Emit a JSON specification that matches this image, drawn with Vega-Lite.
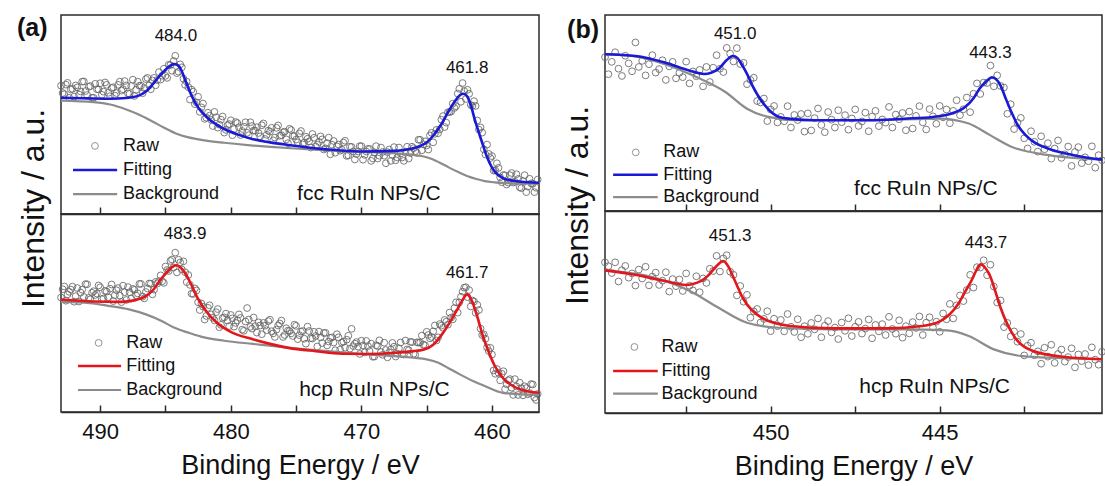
{
"$schema": "https://vega.github.io/schema/vega-lite/v6.json",
"background": "white",
"padding": {"left": 16, "top": 14, "right": 5, "bottom": 5},
"config": {
 "font": "Liberation Sans",
 "view": {"stroke": "#2b2b2b", "strokeWidth": 1.5},
 "axis": {"grid": false, "domainColor": "#2b2b2b", "domainWidth": 1.5, "tickColor": "#2b2b2b", "tickWidth": 1.5, "tickSize": -7, "labelFont": "Liberation Sans", "labelFontSize": 22, "labelColor": "#111", "labelPadding": 16, "titleFont": "Liberation Sans", "titleFontSize": 27, "titleFontWeight": "normal", "titleColor": "#111", "titlePadding": 10}
},
"datasets": {
"aF_raw": [{"x":493,"y":64.5},{"x":492.75,"y":60.2},{"x":492.5,"y":65.9},{"x":492.25,"y":62.6},{"x":492,"y":59},{"x":491.75,"y":63.6},{"x":491.5,"y":61.6},{"x":491.25,"y":66.6},{"x":491,"y":59.8},{"x":490.75,"y":64.3},{"x":490.5,"y":58.4},{"x":490.25,"y":62.7},{"x":490,"y":65.7},{"x":489.75,"y":61.5},{"x":489.5,"y":64.9},{"x":489.25,"y":59.2},{"x":489,"y":63.7},{"x":488.75,"y":60.8},{"x":488.5,"y":66.5},{"x":488.25,"y":62.7},{"x":488,"y":64.6},{"x":487.75,"y":60.4},{"x":487.5,"y":67.5},{"x":487.25,"y":62.4},{"x":487,"y":64.4},{"x":486.75,"y":60.7},{"x":486.5,"y":67.8},{"x":486.25,"y":64.6},{"x":486,"y":67.1},{"x":485.75,"y":64.7},{"x":485.5,"y":71.3},{"x":485.25,"y":69.5},{"x":485,"y":69.4},{"x":484.75,"y":75},{"x":484.5,"y":72},{"x":484.25,"y":79.5},{"x":484,"y":71.5},{"x":483.75,"y":73.7},{"x":483.5,"y":64.9},{"x":483.25,"y":63.7},{"x":483,"y":62.5},{"x":482.75,"y":55.2},{"x":482.5,"y":58.9},{"x":482.25,"y":53.6},{"x":482,"y":47.8},{"x":481.75,"y":50.9},{"x":481.5,"y":47.3},{"x":481.25,"y":51.3},{"x":481,"y":43.4},{"x":480.75,"y":47.4},{"x":480.5,"y":40.9},{"x":480.25,"y":44.7},{"x":480,"y":47.1},{"x":479.75,"y":42.7},{"x":479.5,"y":45.7},{"x":479.25,"y":39.7},{"x":479,"y":43.9},{"x":478.75,"y":40.8},{"x":478.5,"y":46.1},{"x":478.25,"y":41.9},{"x":478,"y":43.6},{"x":477.75,"y":39},{"x":477.5,"y":45.5},{"x":477.25,"y":39.8},{"x":477,"y":41.4},{"x":476.75,"y":37},{"x":476.5,"y":43.3},{"x":476.25,"y":39.3},{"x":476,"y":41.1},{"x":475.75,"y":37.5},{"x":475.5,"y":42.8},{"x":475.25,"y":39.2},{"x":475,"y":37.4},{"x":474.75,"y":40.5},{"x":474.5,"y":35},{"x":474.25,"y":38.8},{"x":474,"y":36.5},{"x":473.75,"y":40.2},{"x":473.5,"y":33.9},{"x":473.25,"y":36.2},{"x":473,"y":37.5},{"x":472.75,"y":33},{"x":472.5,"y":38.4},{"x":472.25,"y":34.8},{"x":472,"y":30.8},{"x":471.75,"y":34.9},{"x":471.5,"y":32.3},{"x":471.25,"y":36.8},{"x":471,"y":29.4},{"x":470.75,"y":33.7},{"x":470.5,"y":27.4},{"x":470.25,"y":31.4},{"x":470,"y":34.1},{"x":469.75,"y":29.7},{"x":469.5,"y":32.7},{"x":469.25,"y":26.7},{"x":469,"y":30.9},{"x":468.75,"y":27.9},{"x":468.5,"y":33.4},{"x":468.25,"y":29.3},{"x":468,"y":31.1},{"x":467.75,"y":26.7},{"x":467.5,"y":33.6},{"x":467.25,"y":28.4},{"x":467,"y":30.4},{"x":466.75,"y":26.7},{"x":466.5,"y":33.8},{"x":466.25,"y":30.6},{"x":466,"y":33.1},{"x":465.75,"y":30.7},{"x":465.5,"y":37.3},{"x":465.25,"y":35},{"x":465,"y":34.4},{"x":464.75,"y":39.5},{"x":464.5,"y":36},{"x":464.25,"y":42.3},{"x":464,"y":42.5},{"x":463.75,"y":49.2},{"x":463.5,"y":45.9},{"x":463.25,"y":51.2},{"x":463,"y":55.5},{"x":462.75,"y":54.2},{"x":462.5,"y":62.9},{"x":462.25,"y":65.8},{"x":462,"y":57.8},{"x":461.75,"y":60.4},{"x":461.5,"y":54.3},{"x":461.25,"y":54.3},{"x":461,"y":42.4},{"x":460.75,"y":40.9},{"x":460.5,"y":29.9},{"x":460.25,"y":30.2},{"x":460,"y":29.1},{"x":459.75,"y":21.9},{"x":459.5,"y":23.2},{"x":459.25,"y":16},{"x":459,"y":19.4},{"x":458.75,"y":15.8},{"x":458.5,"y":20.6},{"x":458.25,"y":16.2},{"x":458,"y":17.6},{"x":457.75,"y":13},{"x":457.5,"y":19.5},{"x":457.25,"y":13.8},{"x":457,"y":15.4},{"x":456.75,"y":11},{"x":456.5,"y":17.3},
{"x":492.875,"y":60.8},{"x":492.625,"y":65},{"x":492.375,"y":58.4},{"x":492.125,"y":62.9},{"x":491.875,"y":64.6},{"x":491.625,"y":60},{"x":491.375,"y":66.5},{"x":491.125,"y":61.8},{"x":490.875,"y":63.9},{"x":490.625,"y":58.4},{"x":490.375,"y":65.4},{"x":490.125,"y":62.6},{"x":489.875,"y":59.9},{"x":489.625,"y":66.1},{"x":489.375,"y":60.9},{"x":489.125,"y":63.3},{"x":488.875,"y":59.5},{"x":488.625,"y":64.9},{"x":488.375,"y":62},{"x":488.125,"y":66.8},{"x":487.875,"y":60.6},{"x":487.625,"y":64.3},{"x":487.375,"y":59.3},{"x":487.125,"y":66.5},{"x":486.875,"y":64.5},{"x":486.625,"y":63.3},{"x":486.375,"y":68.4},{"x":486.125,"y":62.7},{"x":485.875,"y":68.4},{"x":485.625,"y":67.3},{"x":485.375,"y":67.5},{"x":485.125,"y":73},{"x":484.875,"y":68.4},{"x":484.625,"y":74.8},{"x":484.375,"y":76.9},{"x":484.125,"y":70.8},{"x":483.875,"y":75.2},{"x":483.625,"y":68},{"x":483.375,"y":66.5},{"x":483.125,"y":57.5},{"x":482.875,"y":61.4},{"x":482.625,"y":56.1},{"x":482.375,"y":51.3},{"x":482.125,"y":55.5},{"x":481.875,"y":48.4},{"x":481.625,"y":49.4},{"x":481.375,"y":44.2},{"x":481.125,"y":48.6},{"x":480.875,"y":44.9},{"x":480.625,"y":49},{"x":480.375,"y":42.3},{"x":480.125,"y":45.2},{"x":479.875,"y":39.6},{"x":479.625,"y":46.2},{"x":479.375,"y":43.6},{"x":479.125,"y":41.7},{"x":478.875,"y":46.1},{"x":478.625,"y":39.6},{"x":478.375,"y":44.2},{"x":478.125,"y":41.9},{"x":477.875,"y":40.7},{"x":477.625,"y":44.6},{"x":477.375,"y":37.7},{"x":477.125,"y":41.9},{"x":476.875,"y":43.3},{"x":476.625,"y":38.4},{"x":476.375,"y":44.5},{"x":476.125,"y":39.6},{"x":475.875,"y":41.4},{"x":475.625,"y":35.6},{"x":475.375,"y":42.2},{"x":475.125,"y":39.2},{"x":474.875,"y":36},{"x":474.625,"y":41.7},{"x":474.375,"y":35.9},{"x":474.125,"y":37.8},{"x":473.875,"y":33.4},{"x":473.625,"y":38.3},{"x":473.375,"y":34.8},{"x":473.125,"y":39},{"x":472.875,"y":32.4},{"x":472.625,"y":35.6},{"x":472.375,"y":30},{"x":472.125,"y":36.7},{"x":471.875,"y":34},{"x":471.625,"y":31.8},{"x":471.375,"y":35.9},{"x":471.125,"y":29.2},{"x":470.875,"y":33.8},{"x":470.625,"y":31.4},{"x":470.375,"y":30.1},{"x":470.125,"y":34.1},{"x":469.875,"y":27.3},{"x":469.625,"y":31.4},{"x":469.375,"y":32.7},{"x":469.125,"y":27.9},{"x":468.875,"y":34.1},{"x":468.625,"y":29.3},{"x":468.375,"y":31.2},{"x":468.125,"y":25.5},{"x":467.875,"y":32.4},{"x":467.625,"y":29.6},{"x":467.375,"y":27},{"x":467.125,"y":33.4},{"x":466.875,"y":28.4},{"x":466.625,"y":31.3},{"x":466.375,"y":27.9},{"x":466.125,"y":33.8},{"x":465.875,"y":31.6},{"x":465.625,"y":37.3},{"x":465.375,"y":32},{"x":465.125,"y":36.5},{"x":464.875,"y":32.4},{"x":464.625,"y":40.8},{"x":464.375,"y":40.3},{"x":464.125,"y":40.6},{"x":463.875,"y":47.4},{"x":463.625,"y":43.7},{"x":463.375,"y":51.1},{"x":463.125,"y":51.5},{"x":462.875,"y":53.3},{"x":462.625,"y":60.5},{"x":462.375,"y":56.4},{"x":462.125,"y":61.8},{"x":461.875,"y":62.4},{"x":461.625,"y":54.8},{"x":461.375,"y":56.7},{"x":461.125,"y":47},{"x":460.875,"y":43.5},{"x":460.625,"y":32.5},{"x":460.375,"y":34.9},{"x":460.125,"y":28.1},{"x":459.875,"y":21.8},{"x":459.625,"y":25.5},{"x":459.375,"y":18.4},{"x":459.125,"y":19.6},{"x":458.875,"y":14.8},{"x":458.625,"y":19.5},{"x":458.375,"y":15.8},{"x":458.125,"y":20},{"x":457.875,"y":13.4},{"x":457.625,"y":16.6},{"x":457.375,"y":11},{"x":457.125,"y":17.7},{"x":456.875,"y":15.2},{"x":456.625,"y":13.2}],
"aH_raw": [{"x":493,"y":57.8},{"x":492.75,"y":63.4},{"x":492.5,"y":59.4},{"x":492.25,"y":61.8},{"x":492,"y":55.7},{"x":491.75,"y":62.6},{"x":491.5,"y":60.3},{"x":491.25,"y":58.1},{"x":491,"y":64.5},{"x":490.75,"y":56.9},{"x":490.5,"y":61},{"x":490.25,"y":59.8},{"x":490,"y":63},{"x":489.75,"y":57.3},{"x":489.5,"y":60.8},{"x":489.25,"y":62.3},{"x":489,"y":56},{"x":488.75,"y":61.5},{"x":488.5,"y":58.8},{"x":488.25,"y":63.8},{"x":488,"y":56.6},{"x":487.75,"y":60.5},{"x":487.5,"y":62.2},{"x":487.25,"y":58.9},{"x":487,"y":64.7},{"x":486.75,"y":58.3},{"x":486.5,"y":60.6},{"x":486.25,"y":64.9},{"x":486,"y":59.4},{"x":485.75,"y":65.7},{"x":485.5,"y":66.1},{"x":485.25,"y":66},{"x":485,"y":73.5},{"x":484.75,"y":71.2},{"x":484.5,"y":77},{"x":484.25,"y":80.5},{"x":484,"y":76.9},{"x":483.75,"y":72},{"x":483.5,"y":70.6},{"x":483.25,"y":69.2},{"x":483,"y":59.8},{"x":482.75,"y":62.4},{"x":482.5,"y":55.4},{"x":482.25,"y":54.8},{"x":482,"y":46.7},{"x":481.75,"y":52.6},{"x":481.5,"y":49.3},{"x":481.25,"y":46.3},{"x":481,"y":52},{"x":480.75,"y":44},{"x":480.5,"y":47.8},{"x":480.25,"y":46.2},{"x":480,"y":49},{"x":479.75,"y":43.1},{"x":479.5,"y":46.3},{"x":479.25,"y":47.5},{"x":479,"y":41},{"x":478.75,"y":52.5},{"x":478.5,"y":43},{"x":478.25,"y":47.7},{"x":478,"y":40.1},{"x":477.75,"y":43.7},{"x":477.5,"y":45},{"x":477.25,"y":41.3},{"x":477,"y":46.6},{"x":476.75,"y":39.7},{"x":476.5,"y":41.6},{"x":476.25,"y":44.7},{"x":476,"y":37.9},{"x":475.75,"y":42.3},{"x":475.5,"y":40.9},{"x":475.25,"y":38.4},{"x":475,"y":43.5},{"x":474.75,"y":38.8},{"x":474.5,"y":40.9},{"x":474.25,"y":34.5},{"x":474,"y":40.9},{"x":473.75,"y":37.1},{"x":473.5,"y":38.4},{"x":473.25,"y":40.6},{"x":473,"y":34.8},{"x":472.75,"y":40},{"x":472.5,"y":35.6},{"x":472.25,"y":37.7},{"x":472,"y":31.2},{"x":471.75,"y":37.7},{"x":471.5,"y":35.1},{"x":471.25,"y":32.5},{"x":471,"y":38.5},{"x":470.75,"y":42},{"x":470.5,"y":34.5},{"x":470.25,"y":33},{"x":470,"y":36},{"x":469.75,"y":30.1},{"x":469.5,"y":33.3},{"x":469.25,"y":34.5},{"x":469,"y":28},{"x":468.75,"y":33.3},{"x":468.5,"y":30.3},{"x":468.25,"y":35},{"x":468,"y":27.6},{"x":467.75,"y":31.5},{"x":467.5,"y":33},{"x":467.25,"y":29.5},{"x":467,"y":35.1},{"x":466.75,"y":29},{"x":466.5,"y":31.6},{"x":466.25,"y":35.4},{"x":466,"y":29.4},{"x":465.75,"y":35.2},{"x":465.5,"y":35.1},{"x":465.25,"y":34},{"x":465,"y":40.5},{"x":464.75,"y":37.2},{"x":464.5,"y":40.7},{"x":464.25,"y":36.1},{"x":464,"y":44.4},{"x":463.75,"y":42.5},{"x":463.5,"y":45.6},{"x":463.25,"y":50.2},{"x":463,"y":46.8},{"x":462.75,"y":55.4},{"x":462.5,"y":55.4},{"x":462.25,"y":60.8},{"x":462,"y":63},{"x":461.75,"y":61.6},{"x":461.5,"y":56.3},{"x":461.25,"y":50.1},{"x":461,"y":51.5},{"x":460.75,"y":38.9},{"x":460.5,"y":37},{"x":460.25,"y":30.8},{"x":460,"y":29},{"x":459.75,"y":19.3},{"x":459.5,"y":19.8},{"x":459.25,"y":19.3},{"x":459,"y":11.5},{"x":458.75,"y":16},{"x":458.5,"y":12.3},{"x":458.25,"y":16.6},{"x":458,"y":8.6},{"x":457.75,"y":12},{"x":457.5,"y":13},{"x":457.25,"y":9},{"x":457,"y":14.1},{"x":456.75,"y":7.3},{"x":456.5,"y":9.1},
{"x":492.875,"y":62},{"x":492.625,"y":56.2},{"x":492.375,"y":60.7},{"x":492.125,"y":63.3},{"x":491.875,"y":58.5},{"x":491.625,"y":55.8},{"x":491.375,"y":61.8},{"x":491.125,"y":64.6},{"x":490.875,"y":57.6},{"x":490.625,"y":60.2},{"x":490.375,"y":59.1},{"x":490.125,"y":63.9},{"x":489.875,"y":57},{"x":489.625,"y":61.2},{"x":489.375,"y":58},{"x":489.125,"y":64.4},{"x":488.875,"y":59},{"x":488.625,"y":62.6},{"x":488.375,"y":55.5},{"x":488.125,"y":60.5},{"x":487.875,"y":63.1},{"x":487.625,"y":57.3},{"x":487.375,"y":61.7},{"x":487.125,"y":59.9},{"x":486.875,"y":64.7},{"x":486.625,"y":57.4},{"x":486.375,"y":62.4},{"x":486.125,"y":64.8},{"x":485.875,"y":61.8},{"x":485.625,"y":64.9},{"x":485.375,"y":69},{"x":485.125,"y":65.2},{"x":484.875,"y":71.7},{"x":484.625,"y":76.3},{"x":484.375,"y":73},{"x":484.125,"y":70.5},{"x":483.875,"y":75.5},{"x":483.625,"y":76.1},{"x":483.375,"y":65.6},{"x":483.125,"y":64.2},{"x":482.875,"y":59.6},{"x":482.625,"y":61.4},{"x":482.375,"y":51.5},{"x":482.125,"y":53.2},{"x":481.875,"y":48.5},{"x":481.625,"y":53.9},{"x":481.375,"y":47.6},{"x":481.125,"y":50.4},{"x":480.875,"y":42.8},{"x":480.625,"y":47.5},{"x":480.375,"y":49.7},{"x":480.125,"y":43.4},{"x":479.875,"y":47.3},{"x":479.625,"y":45},{"x":479.375,"y":49.3},{"x":479.125,"y":41.6},{"x":478.875,"y":45.7},{"x":478.625,"y":46.7},{"x":478.375,"y":42.1},{"x":478.125,"y":43.4},{"x":477.875,"y":45.3},{"x":477.625,"y":39.3},{"x":477.375,"y":43.6},{"x":477.125,"y":45.9},{"x":476.875,"y":40.8},{"x":476.625,"y":37.9},{"x":476.375,"y":43.7},{"x":476.125,"y":46.2},{"x":475.875,"y":38.9},{"x":475.625,"y":41.1},{"x":475.375,"y":39.7},{"x":475.125,"y":44.1},{"x":474.875,"y":36.8},{"x":474.625,"y":40.6},{"x":474.375,"y":37},{"x":474.125,"y":43.1},{"x":473.875,"y":37.3},{"x":473.625,"y":40.5},{"x":473.375,"y":33.1},{"x":473.125,"y":37.7},{"x":472.875,"y":39.9},{"x":472.625,"y":33.6},{"x":472.375,"y":37.4},{"x":472.125,"y":35.1},{"x":471.875,"y":39.3},{"x":471.625,"y":31.5},{"x":471.375,"y":35.5},{"x":471.125,"y":36.5},{"x":470.875,"y":32},{"x":470.625,"y":33.3},{"x":470.375,"y":35.3},{"x":470.125,"y":29.3},{"x":469.875,"y":33.6},{"x":469.625,"y":35.9},{"x":469.375,"y":30.8},{"x":469.125,"y":27.9},{"x":468.875,"y":33.7},{"x":468.625,"y":36.2},{"x":468.375,"y":28.9},{"x":468.125,"y":31.3},{"x":467.875,"y":30.1},{"x":467.625,"y":34.9},{"x":467.375,"y":28},{"x":467.125,"y":32.2},{"x":466.875,"y":29.2},{"x":466.625,"y":36.1},{"x":466.375,"y":31.2},{"x":466.125,"y":35.3},{"x":465.875,"y":29},{"x":465.625,"y":35},{"x":465.375,"y":38.6},{"x":465.125,"y":33.7},{"x":464.875,"y":38.9},{"x":464.625,"y":37.9},{"x":464.375,"y":43.7},{"x":464.125,"y":37.7},{"x":463.875,"y":43.6},{"x":463.625,"y":46.5},{"x":463.375,"y":44.1},{"x":463.125,"y":47.7},{"x":462.875,"y":52.5},{"x":462.625,"y":50.2},{"x":462.375,"y":58.2},{"x":462.125,"y":62.8},{"x":461.875,"y":58},{"x":461.625,"y":53.3},{"x":461.375,"y":55.8},{"x":461.125,"y":54.1},{"x":460.875,"y":42.1},{"x":460.625,"y":39.2},{"x":460.375,"y":32.6},{"x":460.125,"y":32.4},{"x":459.875,"y":21},{"x":459.625,"y":21.7},{"x":459.375,"y":16},{"x":459.125,"y":20.6},{"x":458.875,"y":14},{"x":458.625,"y":16.6},{"x":458.375,"y":8.6},{"x":458.125,"y":12.9},{"x":457.875,"y":14.8},{"x":457.625,"y":8.4},{"x":457.375,"y":12.1},{"x":457.125,"y":9.6},{"x":456.875,"y":13.9},{"x":456.625,"y":6.1}],
"bF_raw": [{"x":454.9,"y":78.5},{"x":454.8,"y":69.8},{"x":454.7,"y":76.1},{"x":454.6,"y":81},{"x":454.5,"y":72.6},{"x":454.4,"y":68.9},{"x":454.3,"y":79.2},{"x":454.2,"y":75.3},{"x":454.1,"y":71.3},{"x":454,"y":86},{"x":453.9,"y":73.5},{"x":453.8,"y":76.6},{"x":453.7,"y":69.2},{"x":453.6,"y":74.9},{"x":453.5,"y":79.5},{"x":453.4,"y":70.6},{"x":453.3,"y":72.4},{"x":453.2,"y":76.9},{"x":453.1,"y":66.9},{"x":453,"y":73.8},{"x":452.9,"y":76.1},{"x":452.8,"y":67.7},{"x":452.7,"y":70.5},{"x":452.6,"y":68.3},{"x":452.5,"y":76.2},{"x":452.4,"y":65.1},{"x":452.3,"y":71.2},{"x":452.2,"y":68.8},{"x":452.1,"y":72},{"x":452,"y":63.6},{"x":451.9,"y":73.5},{"x":451.8,"y":65.8},{"x":451.7,"y":73.1},{"x":451.6,"y":79.5},{"x":451.5,"y":72.6},{"x":451.4,"y":70.9},{"x":451.3,"y":83.2},{"x":451.2,"y":80.3},{"x":451.1,"y":76.3},{"x":451,"y":83.1},{"x":450.9,"y":75},{"x":450.8,"y":75.6},{"x":450.7,"y":64.7},{"x":450.6,"y":66.9},{"x":450.5,"y":68},{"x":450.4,"y":56.1},{"x":450.3,"y":55.4},{"x":450.2,"y":57.4},{"x":450.1,"y":45.9},{"x":450,"y":51.8},{"x":449.9,"y":53.6},{"x":449.8,"y":45.2},{"x":449.7,"y":48},{"x":449.6,"y":45.8},{"x":449.5,"y":53.5},{"x":449.4,"y":42.6},{"x":449.3,"y":49},{"x":449.2,"y":46.4},{"x":449.1,"y":49.5},{"x":449,"y":40.5},{"x":448.9,"y":49.8},{"x":448.8,"y":41.1},{"x":448.7,"y":47.4},{"x":448.6,"y":52.3},{"x":448.5,"y":43.9},{"x":448.4,"y":40.2},{"x":448.3,"y":50.5},{"x":448.2,"y":46.6},{"x":448.1,"y":42.6},{"x":448,"y":51.4},{"x":447.9,"y":45.3},{"x":447.8,"y":48.9},{"x":447.7,"y":41.5},{"x":447.6,"y":47.2},{"x":447.5,"y":51.8},{"x":447.4,"y":43.4},{"x":447.3,"y":45.7},{"x":447.2,"y":50.2},{"x":447.1,"y":40.7},{"x":447,"y":48.2},{"x":446.9,"y":51.1},{"x":446.8,"y":43.3},{"x":446.7,"y":46.7},{"x":446.6,"y":45.1},{"x":446.5,"y":53.1},{"x":446.4,"y":42.6},{"x":446.3,"y":49.2},{"x":446.2,"y":46.8},{"x":446.1,"y":50},{"x":446,"y":41.2},{"x":445.9,"y":50.7},{"x":445.8,"y":42.1},{"x":445.7,"y":48.5},{"x":445.6,"y":53.5},{"x":445.5,"y":45.2},{"x":445.4,"y":41.6},{"x":445.3,"y":52},{"x":445.2,"y":48.3},{"x":445.1,"y":44.5},{"x":445,"y":53.6},{"x":444.9,"y":47.8},{"x":444.8,"y":51.8},{"x":444.7,"y":44.8},{"x":444.6,"y":51.1},{"x":444.5,"y":56.5},{"x":444.4,"y":48.9},{"x":444.3,"y":51.9},{"x":444.2,"y":57.9},{"x":444.1,"y":50.4},{"x":444,"y":59.8},{"x":443.9,"y":65.1},{"x":443.8,"y":59.7},{"x":443.7,"y":65.5},{"x":443.6,"y":65.3},{"x":443.5,"y":74.2},{"x":443.4,"y":63.6},{"x":443.3,"y":69.2},{"x":443.2,"y":63.8},{"x":443.1,"y":63},{"x":443,"y":49.6},{"x":442.9,"y":54.5},{"x":442.8,"y":41.8},{"x":442.7,"y":45.1},{"x":442.6,"y":47.5},{"x":442.5,"y":37.1},{"x":442.4,"y":31.9},{"x":442.3,"y":40.7},{"x":442.2,"y":35.3},{"x":442.1,"y":30.3},{"x":442,"y":38.1},{"x":441.9,"y":31.5},{"x":441.8,"y":34.6},{"x":441.7,"y":26.7},{"x":441.6,"y":31.9},{"x":441.5,"y":36},{"x":441.4,"y":27.1},{"x":441.3,"y":28.9},{"x":441.2,"y":32.9},{"x":441.1,"y":23},{"x":441,"y":30.1},{"x":440.9,"y":32.6},{"x":440.8,"y":24.4},{"x":440.7,"y":27.4},{"x":440.6,"y":25.4},{"x":440.5,"y":33},{"x":440.4,"y":22.1},{"x":440.3,"y":28.5},{"x":440.2,"y":25.9}],
"bH_raw": [{"x":454.9,"y":74.6},{"x":454.8,"y":72.7},{"x":454.7,"y":69.3},{"x":454.6,"y":74.6},{"x":454.5,"y":65.1},{"x":454.4,"y":70.7},{"x":454.3,"y":72.8},{"x":454.2,"y":67},{"x":454.1,"y":69.1},{"x":454,"y":63.1},{"x":453.9,"y":71},{"x":453.8,"y":66.6},{"x":453.7,"y":72.4},{"x":453.6,"y":63.2},{"x":453.5,"y":67.5},{"x":453.4,"y":69.5},{"x":453.3,"y":63.4},{"x":453.2,"y":65.5},{"x":453.1,"y":69.7},{"x":453,"y":60.1},{"x":452.9,"y":66.3},{"x":452.8,"y":62.8},{"x":452.7,"y":66.1},{"x":452.6,"y":60.4},{"x":452.5,"y":69.1},{"x":452.4,"y":63},{"x":452.3,"y":60.7},{"x":452.2,"y":67.7},{"x":452.1,"y":59.8},{"x":452,"y":66.6},{"x":451.9,"y":64.4},{"x":451.8,"y":71.4},{"x":451.7,"y":70.3},{"x":451.6,"y":77.8},{"x":451.5,"y":70},{"x":451.4,"y":76.5},{"x":451.3,"y":78.1},{"x":451.2,"y":70},{"x":451.1,"y":68.4},{"x":451,"y":58.2},{"x":450.9,"y":62.9},{"x":450.8,"y":55.1},{"x":450.7,"y":58.5},{"x":450.6,"y":47.2},{"x":450.5,"y":50.3},{"x":450.4,"y":51.5},{"x":450.3,"y":44.8},{"x":450.2,"y":46.6},{"x":450.1,"y":50.4},{"x":450,"y":40.5},{"x":449.9,"y":46.7},{"x":449.8,"y":43},{"x":449.7,"y":46.1},{"x":449.6,"y":40.4},{"x":449.5,"y":49},{"x":449.4,"y":42.7},{"x":449.3,"y":40.1},{"x":449.2,"y":46.4},{"x":449.1,"y":37.5},{"x":449,"y":43},{"x":448.9,"y":39.2},{"x":448.8,"y":44.6},{"x":448.7,"y":41.4},{"x":448.6,"y":46.8},{"x":448.5,"y":37.5},{"x":448.4,"y":43.2},{"x":448.3,"y":45.5},{"x":448.2,"y":39.9},{"x":448.1,"y":42.3},{"x":448,"y":36.6},{"x":447.9,"y":44.8},{"x":447.8,"y":40.7},{"x":447.7,"y":46.9},{"x":447.6,"y":38.1},{"x":447.5,"y":42.7},{"x":447.4,"y":45.1},{"x":447.3,"y":39.3},{"x":447.2,"y":41.8},{"x":447.1,"y":46.3},{"x":447,"y":37},{"x":446.9,"y":43.6},{"x":446.8,"y":40.4},{"x":446.7,"y":44},{"x":446.6,"y":38.6},{"x":446.5,"y":47.6},{"x":446.4,"y":41.6},{"x":446.3,"y":39.3},{"x":446.2,"y":45.9},{"x":446.1,"y":37.3},{"x":446,"y":43},{"x":445.9,"y":39.4},{"x":445.8,"y":45},{"x":445.7,"y":42.1},{"x":445.6,"y":47.8},{"x":445.5,"y":38.6},{"x":445.4,"y":44.7},{"x":445.3,"y":47.4},{"x":445.2,"y":42.3},{"x":445.1,"y":45.2},{"x":445,"y":40.2},{"x":444.9,"y":49.3},{"x":444.8,"y":46.4},{"x":444.7,"y":54},{"x":444.6,"y":46.8},{"x":444.5,"y":53.3},{"x":444.4,"y":58.2},{"x":444.3,"y":55.4},{"x":444.2,"y":60.9},{"x":444.1,"y":68.4},{"x":444,"y":62.1},{"x":443.9,"y":72.2},{"x":443.8,"y":72},{"x":443.7,"y":75.6},{"x":443.6,"y":68.2},{"x":443.5,"y":73.4},{"x":443.4,"y":62.6},{"x":443.3,"y":54.7},{"x":443.2,"y":55.7},{"x":443.1,"y":42.5},{"x":443,"y":44.6},{"x":442.9,"y":37.9},{"x":442.8,"y":40.4},{"x":442.7,"y":35.3},{"x":442.6,"y":39.1},{"x":442.5,"y":28.5},{"x":442.4,"y":33.3},{"x":442.3,"y":34.8},{"x":442.2,"y":28.6},{"x":442.1,"y":30.5},{"x":442,"y":24.4},{"x":441.9,"y":32.3},{"x":441.8,"y":27.9},{"x":441.7,"y":33.8},{"x":441.6,"y":24.8},{"x":441.5,"y":29.2},{"x":441.4,"y":31.4},{"x":441.3,"y":25.4},{"x":441.2,"y":27.7},{"x":441.1,"y":32},{"x":441,"y":22.6},{"x":440.9,"y":29},{"x":440.8,"y":25.7},{"x":440.7,"y":29.2},{"x":440.6,"y":23.7},{"x":440.5,"y":32.5},{"x":440.4,"y":26.4},{"x":440.3,"y":23.9},{"x":440.2,"y":30.3}],
"aF_fit": [{"x":493,"y":58.4},{"x":491,"y":58.1},{"x":489.25,"y":57.9},{"x":488,"y":58.3},{"x":487.05,"y":59.5},{"x":486.5,"y":61.5},{"x":486,"y":65},{"x":485.5,"y":69},{"x":485,"y":72.5},{"x":484.6,"y":74.7},{"x":484.3,"y":75.3},{"x":484,"y":74.5},{"x":483.8,"y":72.5},{"x":483.5,"y":67.5},{"x":483,"y":59.5},{"x":482.5,"y":53.5},{"x":481.9,"y":49},{"x":481,"y":44.5},{"x":480.5,"y":42.7},{"x":479.5,"y":40},{"x":478.3,"y":37.6},{"x":477,"y":36},{"x":475.6,"y":34.7},{"x":472.85,"y":32.6},{"x":470.1,"y":31.4},{"x":467.4,"y":31.7},{"x":466.2,"y":32.8},{"x":465.5,"y":34.2},{"x":464.9,"y":36.5},{"x":464.4,"y":40.2},{"x":463.8,"y":46},{"x":463.3,"y":51.9},{"x":462.8,"y":57},{"x":462.4,"y":60},{"x":462.2,"y":60.4},{"x":461.95,"y":59.5},{"x":461.65,"y":55.3},{"x":461.3,"y":47},{"x":460.8,"y":36.8},{"x":460.4,"y":29},{"x":460,"y":23.3},{"x":459.6,"y":20},{"x":459.2,"y":18.2},{"x":458.5,"y":16.8},{"x":457.8,"y":16.2},{"x":456.4,"y":15.7}],
"aF_bg": [{"x":493,"y":57},{"x":490.5,"y":56.2},{"x":489.24,"y":55},{"x":488,"y":52.5},{"x":487.05,"y":50},{"x":486,"y":46.5},{"x":485.14,"y":43.5},{"x":484.2,"y":40.5},{"x":483.23,"y":38.5},{"x":482,"y":37},{"x":480.5,"y":35.8},{"x":478.5,"y":34.5},{"x":476.94,"y":33.7},{"x":474.8,"y":32.8},{"x":472.85,"y":32.1},{"x":470.5,"y":31.3},{"x":468.75,"y":30.9},{"x":467,"y":30.3},{"x":466.01,"y":29.7},{"x":465.3,"y":29},{"x":464.65,"y":27.8},{"x":464,"y":25.8},{"x":463.28,"y":23.3},{"x":462.5,"y":20.8},{"x":461.91,"y":19.1},{"x":461.2,"y":17.6},{"x":460.55,"y":16.5},{"x":459.8,"y":15.9},{"x":459.18,"y":15.6},{"x":456.4,"y":15.2}],
"aH_fit": [{"x":493,"y":56.8},{"x":490.5,"y":55.8},{"x":488.42,"y":55.6},{"x":487.3,"y":56.5},{"x":486.5,"y":58.5},{"x":485.9,"y":62},{"x":485.42,"y":66.5},{"x":484.9,"y":70.5},{"x":484.5,"y":73.2},{"x":484.18,"y":74.1},{"x":483.9,"y":73.3},{"x":483.5,"y":70.2},{"x":483,"y":64},{"x":482.55,"y":57.6},{"x":481.9,"y":51},{"x":481.04,"y":45},{"x":480,"y":40.5},{"x":478.31,"y":36.7},{"x":477,"y":34.4},{"x":475.58,"y":32.4},{"x":473.5,"y":30.7},{"x":471.48,"y":29.4},{"x":469.5,"y":29.3},{"x":467.38,"y":29.9},{"x":466.2,"y":30.6},{"x":465.2,"y":31.6},{"x":464.5,"y":34},{"x":463.83,"y":39.2},{"x":463.3,"y":44.5},{"x":462.73,"y":50.9},{"x":462.3,"y":56},{"x":461.91,"y":59.4},{"x":461.6,"y":57},{"x":461.1,"y":47.6},{"x":460.7,"y":38.5},{"x":460.28,"y":30.8},{"x":459.8,"y":23.5},{"x":459.18,"y":17.3},{"x":458.5,"y":13.5},{"x":457.81,"y":11.4},{"x":456.4,"y":9.7}],
"aH_bg": [{"x":493,"y":55.6},{"x":490.8,"y":55},{"x":489.24,"y":53.5},{"x":487.8,"y":51.8},{"x":486.5,"y":49.3},{"x":485.3,"y":46},{"x":484.31,"y":42.5},{"x":483.2,"y":40},{"x":482.12,"y":37.8},{"x":480.5,"y":36},{"x":478.3,"y":34.4},{"x":474.2,"y":31.6},{"x":470.1,"y":29.4},{"x":466,"y":27.4},{"x":465,"y":26.6},{"x":464.1,"y":24.9},{"x":463.3,"y":22},{"x":462.46,"y":19},{"x":461.5,"y":15.8},{"x":460.55,"y":13.1},{"x":459.18,"y":9.7},{"x":456.4,"y":8.6}],
"bF_fit": [{"x":454.9,"y":80},{"x":454,"y":79.1},{"x":453.13,"y":75.8},{"x":452.39,"y":71.6},{"x":451.97,"y":69.9},{"x":451.55,"y":72.4},{"x":451.3,"y":77},{"x":451.12,"y":79.1},{"x":450.98,"y":78},{"x":450.86,"y":74.9},{"x":450.7,"y":70},{"x":450.54,"y":64},{"x":450.17,"y":53.9},{"x":449.75,"y":48},{"x":449.4,"y":47},{"x":448.69,"y":46.3},{"x":447.1,"y":46.3},{"x":446.05,"y":47.1},{"x":445.2,"y":48},{"x":444.67,"y":49.6},{"x":444.25,"y":53},{"x":444,"y":57.5},{"x":443.83,"y":62.3},{"x":443.6,"y":66.5},{"x":443.46,"y":68.2},{"x":443.35,"y":67.5},{"x":443.2,"y":64},{"x":443.05,"y":57.5},{"x":442.88,"y":50.5},{"x":442.7,"y":44},{"x":442.46,"y":38.7},{"x":442.2,"y":35},{"x":441.82,"y":32},{"x":441.08,"y":28.6},{"x":440.2,"y":26.2}],
"bF_bg": [{"x":454.9,"y":80},{"x":453.97,"y":78.8},{"x":453.13,"y":74.9},{"x":452.18,"y":68.2},{"x":451.33,"y":60.6},{"x":450.7,"y":52.2},{"x":450.07,"y":48},{"x":449.22,"y":46.3},{"x":447.1,"y":46.3},{"x":444.99,"y":47.1},{"x":444.55,"y":46.4},{"x":444.14,"y":44.6},{"x":443.51,"y":38.7},{"x":442.88,"y":32.8},{"x":441.82,"y":28.6},{"x":440.2,"y":26.2}],
"bH_fit": [{"x":454.9,"y":70.6},{"x":453.97,"y":68.3},{"x":453.13,"y":65.3},{"x":452.5,"y":63.4},{"x":452.3,"y":63.9},{"x":452.07,"y":65.3},{"x":451.85,"y":68},{"x":451.65,"y":71.9},{"x":451.4,"y":75.2},{"x":451.25,"y":72.5},{"x":451.12,"y":67.8},{"x":450.8,"y":56.3},{"x":450.27,"y":47.2},{"x":449.43,"y":43.1},{"x":448.16,"y":41.9},{"x":446.57,"y":41.9},{"x":445.51,"y":43.1},{"x":444.98,"y":45.5},{"x":444.46,"y":53.8},{"x":444.25,"y":60},{"x":444.04,"y":66.2},{"x":443.92,"y":70.5},{"x":443.78,"y":73.6},{"x":443.65,"y":71.8},{"x":443.51,"y":67.8},{"x":443.35,"y":60},{"x":443.2,"y":52.1},{"x":443,"y":44},{"x":442.77,"y":37.3},{"x":442.24,"y":30.7},{"x":441.29,"y":27.7},{"x":440.2,"y":26.6}],
"bH_bg": [{"x":454.9,"y":70.6},{"x":453.44,"y":67},{"x":452.39,"y":60.4},{"x":451.54,"y":52.1},{"x":450.7,"y":44.7},{"x":449.75,"y":42.2},{"x":448.16,"y":41.4},{"x":446.05,"y":41.4},{"x":444.78,"y":40.9},{"x":444.14,"y":38.1},{"x":443.4,"y":31.5},{"x":442.56,"y":28.2},{"x":441.29,"y":27.1},{"x":440.2,"y":26.6}],
"leg": [
{"s":"aF","k":"raw","x":490.4,"y":34.2},{"s":"aF","k":"fit","x":492.08,"x2":488.7,"y":22.1},{"s":"aF","k":"bg","x":492.08,"x2":488.7,"y":10},
{"s":"aH","k":"raw","x":490.12,"y":34.9},{"s":"aH","k":"fit","x":491.7,"x2":488.4,"y":23.2},{"s":"aH","k":"bg","x":491.7,"x2":488.4,"y":11.1},
{"s":"bF","k":"raw","x":453.99,"y":29.9},{"s":"bF","k":"fit","x":454.66,"x2":453.34,"y":18.5},{"s":"bF","k":"bg","x":454.66,"x2":453.34,"y":7.1},
{"s":"bH","k":"raw","x":454.03,"y":32.7},{"s":"bH","k":"fit","x":454.66,"x2":453.34,"y":20.8},{"s":"bH","k":"bg","x":454.66,"x2":453.34,"y":9.6}],
"txt": [
{"s":"aF","k":"leg","t":"Raw","x":488.26,"y":34.2},{"s":"aF","k":"leg","t":"Fitting","x":488.26,"y":22.1},{"s":"aF","k":"leg","t":"Background","x":488.26,"y":10},
{"s":"aF","k":"name","t":"fcc RuIn NPs/C","x":469.43,"y":10},{"s":"aF","k":"peak","t":"484.0","x":484.2,"y":89.4},{"s":"aF","k":"peak","t":"461.8","x":461.9,"y":73.2},{"s":"aF","k":"panel","t":"(a)","x":495.2,"y":93.5},
{"s":"aH","k":"leg","t":"Raw","x":488,"y":34.9},{"s":"aH","k":"leg","t":"Fitting","x":488,"y":23.2},{"s":"aH","k":"leg","t":"Background","x":488,"y":11.1},
{"s":"aH","k":"name","t":"hcp RuIn NPs/C","x":469,"y":11.1},{"s":"aH","k":"peak","t":"483.9","x":483.5,"y":89.8},{"s":"aH","k":"peak","t":"461.7","x":461.9,"y":70.1},
{"s":"bF","k":"leg","t":"Raw","x":453.18,"y":29.9},{"s":"bF","k":"leg","t":"Fitting","x":453.18,"y":18.5},{"s":"bF","k":"leg","t":"Background","x":453.18,"y":7.1},
{"s":"bF","k":"name","t":"fcc RuIn NPs/C","x":445.41,"y":11},{"s":"bF","k":"peak","t":"451.0","x":451.05,"y":90.5},{"s":"bF","k":"peak","t":"443.3","x":443.5,"y":80.4},{"s":"bF","k":"panel","t":"(b)","x":455.55,"y":92.4},
{"s":"bH","k":"leg","t":"Raw","x":453.23,"y":32.7},{"s":"bH","k":"leg","t":"Fitting","x":453.23,"y":20.8},{"s":"bH","k":"leg","t":"Background","x":453.23,"y":9.6},
{"s":"bH","k":"name","t":"hcp RuIn NPs/C","x":445.15,"y":12.9},{"s":"bH","k":"peak","t":"451.3","x":451.2,"y":87.4},{"s":"bH","k":"peak","t":"443.7","x":443.63,"y":84.4}]
},
"hconcat": [
{"vconcat": [
 {"width": 478, "height": 199,
  "encoding": {
   "x": {"field": "x", "type": "quantitative", "scale": {"domain": [456.4, 493], "reverse": true, "nice": false, "zero": false}, "axis": {"values": [460,465,470,475,480,485,490], "labels": false, "title": null}},
   "y": {"field": "y", "type": "quantitative", "scale": {"domain": [0, 100], "nice": false, "zero": false}, "axis": null}
  },
  "layer": [
   {"data": {"name": "aF_raw"}, "mark": {"type": "point", "shape": "circle", "filled": false, "color": "#666666", "size": 46, "strokeWidth": 1, "opacity": 0.85}},
   {"data": {"name": "aF_bg"}, "mark": {"type": "line", "interpolate": "monotone", "color": "#8c8c8c", "strokeWidth": 2.2, "clip": true}},
   {"data": {"name": "aF_fit"}, "mark": {"type": "line", "interpolate": "monotone", "color": "#1a1ad6", "strokeWidth": 2.6, "clip": true}},
   {"data": {"name": "leg"}, "transform": [{"filter": "datum.s=='aF' && datum.k=='bg'"}], "mark": {"type": "rule", "color": "#8c8c8c", "strokeWidth": 2.2}, "encoding": {"x2": {"field": "x2"}}},
   {"data": {"name": "leg"}, "transform": [{"filter": "datum.s=='aF' && datum.k=='fit'"}], "mark": {"type": "rule", "color": "#1a1ad6", "strokeWidth": 2.6}, "encoding": {"x2": {"field": "x2"}}},
   {"data": {"name": "leg"}, "transform": [{"filter": "datum.s=='aF' && datum.k=='raw'"}], "mark": {"type": "point", "shape": "circle", "filled": false, "color": "#666666", "size": 46, "strokeWidth": 1}},
   {"data": {"name": "txt"}, "transform": [{"filter": "datum.s=='aF' && datum.k=='leg'"}], "mark": {"type": "text", "align": "left", "baseline": "middle", "fontSize": 18, "color": "#111"}, "encoding": {"text": {"field": "t"}}},
   {"data": {"name": "txt"}, "transform": [{"filter": "datum.s=='aF' && datum.k=='peak'"}], "mark": {"type": "text", "align": "center", "baseline": "middle", "fontSize": 17, "color": "#111"}, "encoding": {"text": {"field": "t"}}},
   {"data": {"name": "txt"}, "transform": [{"filter": "datum.s=='aF' && datum.k=='name'"}], "mark": {"type": "text", "align": "center", "baseline": "middle", "fontSize": 21, "color": "#111"}, "encoding": {"text": {"field": "t"}}},
   {"data": {"name": "txt"}, "transform": [{"filter": "datum.s=='aF' && datum.k=='panel'"}], "mark": {"type": "text", "align": "center", "baseline": "middle", "fontSize": 25, "fontWeight": "bold", "color": "#111"}, "encoding": {"text": {"field": "t"}}}
  ]},
 {"width": 478, "height": 198,
  "encoding": {
   "x": {"field": "x", "type": "quantitative", "scale": {"domain": [456.4, 493], "reverse": true, "nice": false, "zero": false}, "axis": {"values": [460,465,470,475,480,485,490], "labelExpr": "datum.value % 10 === 0 ? datum.label : ''", "title": "Binding Energy / eV"}},
   "y": {"field": "y", "type": "quantitative", "scale": {"domain": [0, 100], "nice": false, "zero": false}, "axis": {"title": "Intensity / a.u.", "labels": false, "ticks": false, "domain": false, "titleY": -6, "titlePadding": 11, "titleFontSize": 32}}
  },
  "layer": [
   {"data": {"name": "aH_raw"}, "mark": {"type": "point", "shape": "circle", "filled": false, "color": "#666666", "size": 46, "strokeWidth": 1, "opacity": 0.85}},
   {"data": {"name": "aH_bg"}, "mark": {"type": "line", "interpolate": "monotone", "color": "#8c8c8c", "strokeWidth": 2.2, "clip": true}},
   {"data": {"name": "aH_fit"}, "mark": {"type": "line", "interpolate": "monotone", "color": "#e3161c", "strokeWidth": 2.6, "clip": true}},
   {"data": {"name": "leg"}, "transform": [{"filter": "datum.s=='aH' && datum.k=='bg'"}], "mark": {"type": "rule", "color": "#8c8c8c", "strokeWidth": 2.2}, "encoding": {"x2": {"field": "x2"}}},
   {"data": {"name": "leg"}, "transform": [{"filter": "datum.s=='aH' && datum.k=='fit'"}], "mark": {"type": "rule", "color": "#e3161c", "strokeWidth": 2.6}, "encoding": {"x2": {"field": "x2"}}},
   {"data": {"name": "leg"}, "transform": [{"filter": "datum.s=='aH' && datum.k=='raw'"}], "mark": {"type": "point", "shape": "circle", "filled": false, "color": "#666666", "size": 46, "strokeWidth": 1}},
   {"data": {"name": "txt"}, "transform": [{"filter": "datum.s=='aH' && datum.k=='leg'"}], "mark": {"type": "text", "align": "left", "baseline": "middle", "fontSize": 18, "color": "#111"}, "encoding": {"text": {"field": "t"}}},
   {"data": {"name": "txt"}, "transform": [{"filter": "datum.s=='aH' && datum.k=='peak'"}], "mark": {"type": "text", "align": "center", "baseline": "middle", "fontSize": 17, "color": "#111"}, "encoding": {"text": {"field": "t"}}},
   {"data": {"name": "txt"}, "transform": [{"filter": "datum.s=='aH' && datum.k=='name'"}], "mark": {"type": "text", "align": "center", "baseline": "middle", "fontSize": 21, "color": "#111"}, "encoding": {"text": {"field": "t"}}}
  ]}
 ],
 "spacing": 0, "bounds": "flush",
 "resolve": {"scale": {"x": "independent", "y": "independent"}}
},
{"vconcat": [
 {"width": 497, "height": 196,
  "encoding": {
   "x": {"field": "x", "type": "quantitative", "scale": {"domain": [440.2, 454.9], "reverse": true, "nice": false, "zero": false}, "axis": {"values": [442.5,445,447.5,450,452.5], "labels": false, "title": null}},
   "y": {"field": "y", "type": "quantitative", "scale": {"domain": [0, 100], "nice": false, "zero": false}, "axis": null}
  },
  "layer": [
   {"data": {"name": "bF_raw"}, "mark": {"type": "point", "shape": "circle", "filled": false, "color": "#666666", "size": 46, "strokeWidth": 1, "opacity": 0.85}},
   {"data": {"name": "bF_bg"}, "mark": {"type": "line", "interpolate": "monotone", "color": "#8c8c8c", "strokeWidth": 2.2, "clip": true}},
   {"data": {"name": "bF_fit"}, "mark": {"type": "line", "interpolate": "monotone", "color": "#1a1ad6", "strokeWidth": 2.6, "clip": true}},
   {"data": {"name": "leg"}, "transform": [{"filter": "datum.s=='bF' && datum.k=='bg'"}], "mark": {"type": "rule", "color": "#8c8c8c", "strokeWidth": 2.2}, "encoding": {"x2": {"field": "x2"}}},
   {"data": {"name": "leg"}, "transform": [{"filter": "datum.s=='bF' && datum.k=='fit'"}], "mark": {"type": "rule", "color": "#1a1ad6", "strokeWidth": 2.6}, "encoding": {"x2": {"field": "x2"}}},
   {"data": {"name": "leg"}, "transform": [{"filter": "datum.s=='bF' && datum.k=='raw'"}], "mark": {"type": "point", "shape": "circle", "filled": false, "color": "#666666", "size": 46, "strokeWidth": 1}},
   {"data": {"name": "txt"}, "transform": [{"filter": "datum.s=='bF' && datum.k=='leg'"}], "mark": {"type": "text", "align": "left", "baseline": "middle", "fontSize": 18, "color": "#111"}, "encoding": {"text": {"field": "t"}}},
   {"data": {"name": "txt"}, "transform": [{"filter": "datum.s=='bF' && datum.k=='peak'"}], "mark": {"type": "text", "align": "center", "baseline": "middle", "fontSize": 17, "color": "#111"}, "encoding": {"text": {"field": "t"}}},
   {"data": {"name": "txt"}, "transform": [{"filter": "datum.s=='bF' && datum.k=='name'"}], "mark": {"type": "text", "align": "center", "baseline": "middle", "fontSize": 21, "color": "#111"}, "encoding": {"text": {"field": "t"}}},
   {"data": {"name": "txt"}, "transform": [{"filter": "datum.s=='bF' && datum.k=='panel'"}], "mark": {"type": "text", "align": "center", "baseline": "middle", "fontSize": 25, "fontWeight": "bold", "color": "#111"}, "encoding": {"text": {"field": "t"}}}
  ]},
 {"width": 497, "height": 202,
  "encoding": {
   "x": {"field": "x", "type": "quantitative", "scale": {"domain": [440.2, 454.9], "reverse": true, "nice": false, "zero": false}, "axis": {"values": [442.5,445,447.5,450,452.5], "labelExpr": "datum.value % 5 === 0 ? datum.label : ''", "title": "Binding Energy / eV"}},
   "y": {"field": "y", "type": "quantitative", "scale": {"domain": [0, 100], "nice": false, "zero": false}, "axis": {"title": "Intensity / a.u.", "labels": false, "ticks": false, "domain": false, "titleY": -6, "titlePadding": 11, "titleFontSize": 32}}
  },
  "layer": [
   {"data": {"name": "bH_raw"}, "mark": {"type": "point", "shape": "circle", "filled": false, "color": "#666666", "size": 46, "strokeWidth": 1, "opacity": 0.85}},
   {"data": {"name": "bH_bg"}, "mark": {"type": "line", "interpolate": "monotone", "color": "#8c8c8c", "strokeWidth": 2.2, "clip": true}},
   {"data": {"name": "bH_fit"}, "mark": {"type": "line", "interpolate": "monotone", "color": "#e3161c", "strokeWidth": 2.6, "clip": true}},
   {"data": {"name": "leg"}, "transform": [{"filter": "datum.s=='bH' && datum.k=='bg'"}], "mark": {"type": "rule", "color": "#8c8c8c", "strokeWidth": 2.2}, "encoding": {"x2": {"field": "x2"}}},
   {"data": {"name": "leg"}, "transform": [{"filter": "datum.s=='bH' && datum.k=='fit'"}], "mark": {"type": "rule", "color": "#e3161c", "strokeWidth": 2.6}, "encoding": {"x2": {"field": "x2"}}},
   {"data": {"name": "leg"}, "transform": [{"filter": "datum.s=='bH' && datum.k=='raw'"}], "mark": {"type": "point", "shape": "circle", "filled": false, "color": "#666666", "size": 46, "strokeWidth": 1}},
   {"data": {"name": "txt"}, "transform": [{"filter": "datum.s=='bH' && datum.k=='leg'"}], "mark": {"type": "text", "align": "left", "baseline": "middle", "fontSize": 18, "color": "#111"}, "encoding": {"text": {"field": "t"}}},
   {"data": {"name": "txt"}, "transform": [{"filter": "datum.s=='bH' && datum.k=='peak'"}], "mark": {"type": "text", "align": "center", "baseline": "middle", "fontSize": 17, "color": "#111"}, "encoding": {"text": {"field": "t"}}},
   {"data": {"name": "txt"}, "transform": [{"filter": "datum.s=='bH' && datum.k=='name'"}], "mark": {"type": "text", "align": "center", "baseline": "middle", "fontSize": 21, "color": "#111"}, "encoding": {"text": {"field": "t"}}}
  ]}
 ],
 "spacing": 0, "bounds": "flush",
 "resolve": {"scale": {"x": "independent", "y": "independent"}}
}
],
"spacing": 16,
"resolve": {"scale": {"x": "independent", "y": "independent"}}
}
